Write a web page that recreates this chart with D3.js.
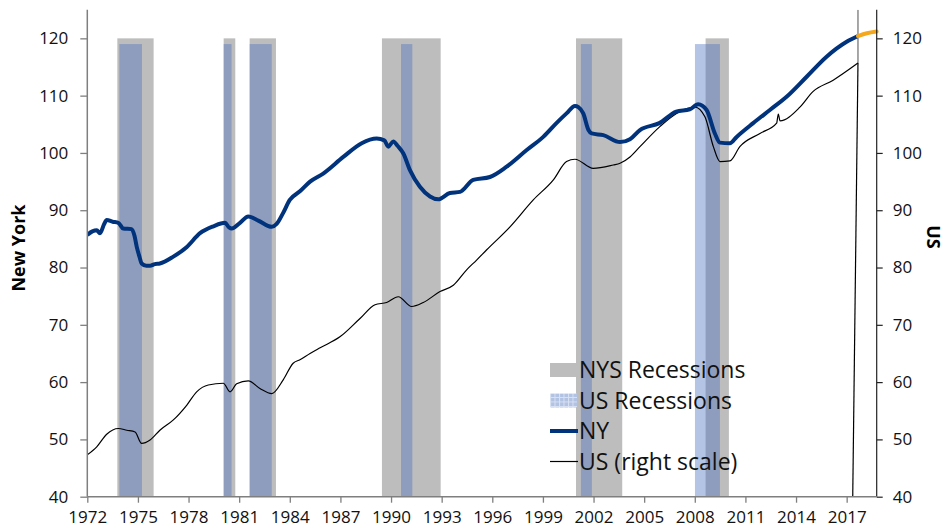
<!DOCTYPE html>
<html>
<head>
<meta charset="utf-8">
<script src="https://cdn.jsdelivr.net/npm/d3@7"></script>
<style>
    body { margin: 0; background: #fff; }
    svg { display: block; font-family: "Open Sans", sans-serif; }
</style>
</head>
<body>
<script>
(function () {
    'use strict';

    var width = 945;
    var height = 529;

    // [year, index]
    var nySeries = [
        [1972.0, 85.7], [1972.3, 86.3], [1972.56, 86.5], [1972.75, 86.0], [1973.0, 87.6],
        [1973.15, 88.3], [1973.5, 88.0], [1973.84, 87.8], [1974.13, 86.8], [1974.63, 86.7],
        [1974.8, 85.5], [1974.93, 83.6], [1975.1, 81.8], [1975.22, 80.7], [1975.5, 80.3],
        [1975.72, 80.3], [1976.0, 80.6], [1976.3, 80.7], [1977.1, 81.9], [1977.9, 83.6],
        [1978.68, 86.0], [1979.47, 87.2], [1980.16, 87.8], [1980.4, 87.0], [1980.56, 86.8],
        [1981.05, 87.8], [1981.54, 88.9], [1982.13, 88.2], [1982.93, 87.1], [1983.22, 87.6],
        [1983.6, 89.5], [1984.0, 91.8], [1984.6, 93.3], [1985.2, 95.0], [1985.98, 96.4],
        [1987.17, 99.3], [1988.26, 101.7], [1989.15, 102.5], [1989.6, 102.2], [1989.84, 101.1],
        [1990.13, 102.0], [1990.4, 101.2], [1990.73, 99.9], [1991.12, 97.0], [1991.71, 94.1],
        [1992.31, 92.4], [1992.8, 91.9], [1993.49, 93.0], [1994.09, 93.2], [1994.87, 95.3],
        [1995.86, 95.8], [1996.85, 97.6], [1998.04, 100.5], [1999.02, 102.8], [1999.8, 105.2],
        [2000.4, 106.9], [2000.9, 108.2], [2001.1, 108.0], [2001.39, 106.9], [2001.7, 104.0],
        [2001.89, 103.4], [2002.58, 103.1], [2003.57, 101.9], [2004.16, 102.4], [2004.75, 104.0],
        [2005.9, 105.2], [2006.9, 107.2], [2007.7, 107.6], [2008.2, 108.5], [2008.7, 107.5],
        [2009.19, 103.4], [2009.49, 101.8], [2010.08, 101.7], [2010.48, 102.8], [2011.46, 105.2],
        [2012.45, 107.5], [2013.44, 109.8], [2014.63, 113.3], [2015.81, 116.8], [2017.0, 119.4],
        [2017.67, 120.4]
    ];

    var nyForecast = [[2017.67, 120.4], [2018.2, 120.9], [2018.78, 121.2]];

    var usSeries = [
        [1972.0, 47.3], [1972.56, 48.7], [1973.15, 50.9], [1973.84, 51.9], [1974.34, 51.6],
        [1974.83, 51.3], [1975.22, 49.3], [1975.72, 49.9], [1976.3, 51.6], [1977.1, 53.4],
        [1977.9, 56.0], [1978.48, 58.3], [1979.17, 59.5], [1980.06, 59.8], [1980.46, 58.3],
        [1980.85, 59.7], [1981.54, 60.2], [1982.23, 58.9], [1982.93, 58.0], [1983.61, 60.4],
        [1984.2, 63.3], [1984.6, 63.9], [1985.2, 65.0], [1985.8, 66.0], [1986.97, 67.9],
        [1988.16, 71.1], [1989.05, 73.5], [1989.74, 73.9], [1990.43, 74.9], [1991.22, 73.2],
        [1991.91, 73.9], [1992.9, 75.8], [1993.69, 76.9], [1994.48, 79.6], [1995.07, 81.3],
        [1995.67, 83.1], [1997.05, 87.1], [1998.43, 91.8], [1999.62, 95.3], [2000.4, 98.5],
        [2000.9, 98.9], [2001.98, 97.3], [2003.17, 97.9], [2003.57, 98.2], [2004.16, 99.3],
        [2004.75, 101.1], [2005.93, 104.6], [2006.92, 106.9], [2008.01, 108.0], [2008.6, 106.3],
        [2009.1, 101.1], [2009.49, 98.5], [2010.08, 98.6], [2010.67, 101.1], [2011.86, 103.4],
        [2012.85, 105.2], [2012.95, 106.8], [2013.05, 105.6], [2014.23, 108.0], [2015.0, 110.7],
        [2016.2, 112.7], [2017.67, 115.7]
    ];

    // the US line drops off the bottom after its last value
    var usTail = [[2017.67, 115.7], [2017.36, 40]];
    var forecastMark = [[2017.67, 125], [2017.67, 115.7]];

    var nysRecessions = [
        [1973.78, 1975.93], [1980.08, 1980.77], [1981.62, 1983.18],
        [1989.46, 1992.94], [2000.96, 2003.70], [2008.64, 2010.02]
    ];
    var usRecessions = [
        [1973.9, 1975.24], [1980.08, 1980.55], [1981.62, 1982.93],
        [1990.59, 1991.26], [2001.25, 2001.9], [2008.01, 2009.49]
    ];

    var yearTicks = [1972, 1975, 1978, 1981, 1984, 1987, 1990, 1993, 1996, 1999, 2002, 2005, 2008, 2011, 2014, 2017];
    var valueTicks = [40, 50, 60, 70, 80, 90, 100, 110, 120];

    var legendItems = ['NYS Recessions', 'US Recessions', 'NY', 'US (right scale)'];

    var x = d3.scaleLinear().domain([1972, 2018.78]).range([87.3, 876.7]);
    var y = d3.scaleLinear().domain([40, 125]).range([496.7, 9.7]);

    var svg = d3.select('body').append('svg')
        .attr('width', width)
        .attr('height', height);

    var defs = svg.append('defs');
    defs.append('clipPath').attr('id', 'plot')
        .append('rect')
        .attr('x', x.range()[0]).attr('y', y.range()[1])
        .attr('width', x.range()[1] - x.range()[0])
        .attr('height', y.range()[0] - y.range()[1]);

    var pat = defs.append('pattern').attr('id', 'usgrid')
        .attr('patternUnits', 'userSpaceOnUse')
        .attr('width', 4.5).attr('height', 4.5);
    pat.append('rect').attr('width', 4.5).attr('height', 4.5).attr('fill', '#b2c2e3');
    pat.append('path').attr('d', 'M0,0.5H4.5M0.5,0V4.5')
        .attr('stroke', '#d9e2f3').attr('stroke-width', 1);

    var plot = svg.append('g').attr('clip-path', 'url(#plot)');

    plot.selectAll('rect.nys')
        .data(nysRecessions)
      .enter().append('rect')
        .attr('class', 'nys')
        .attr('x', function (d) { return x(d[0]); })
        .attr('width', function (d) { return x(d[1]) - x(d[0]); })
        .attr('y', y(120))
        .attr('height', y(40) - y(120))
        .style('fill', '#bebdbe');

    plot.selectAll('rect.us')
        .data(usRecessions)
      .enter().append('rect')
        .attr('class', 'us')
        .attr('x', function (d) { return x(d[0]); })
        .attr('width', function (d) { return x(d[1]) - x(d[0]); })
        .attr('y', y(119))
        .attr('height', y(40) - y(119))
        .style('fill', 'rgb(75,113,190)')
        .style('fill-opacity', 0.415);

    var line = d3.line()
        .x(function (d) { return x(d[0]); })
        .y(function (d) { return y(d[1]); })
        .curve(d3.curveMonotoneX);
    var straight = d3.line()
        .x(function (d) { return x(d[0]); })
        .y(function (d) { return y(d[1]); });

    plot.append('path').datum(forecastMark)
        .attr('d', straight)
        .style('fill', 'none').style('stroke', '#8a8a8a').style('stroke-width', 1.5);

    plot.append('path').datum(usSeries)
        .attr('d', line)
        .style('fill', 'none').style('stroke', '#000').style('stroke-width', 1.2);

    plot.append('path').datum(usTail)
        .attr('d', straight)
        .style('fill', 'none').style('stroke', '#000').style('stroke-width', 1.2);

    plot.append('path').datum(nySeries)
        .attr('d', line)
        .style('fill', 'none').style('stroke', '#00337c').style('stroke-width', 4)
        .style('stroke-linejoin', 'round');

    svg.append('path').datum(nyForecast)
        .attr('d', line)
        .style('fill', 'none').style('stroke', '#f5a81c').style('stroke-width', 4)
        .style('stroke-linecap', 'round');

    // axes
    var left = svg.append('g')
        .attr('transform', 'translate(' + x.range()[0] + ',0)')
        .call(d3.axisLeft(y).tickValues(valueTicks).tickSize(7).tickPadding(12));
    var right = svg.append('g')
        .attr('transform', 'translate(' + x.range()[1] + ',0)')
        .call(d3.axisRight(y).tickValues(valueTicks).tickSize(6).tickPadding(10));
    var bottom = svg.append('g')
        .attr('transform', 'translate(0,' + y.range()[0] + ')')
        .call(d3.axisBottom(x).tickValues(yearTicks).tickFormat(d3.format('d')).tickSize(6).tickPadding(8));

    [left, right, bottom].forEach(function (g) {
        g.select('.domain').attr('d', null);
        g.selectAll('text').style('font-size', '17px').style('fill', '#111')
            .style('font-family', '"Open Sans", sans-serif');
    });
    left.selectAll('line').attr('stroke', '#7f7f7f').attr('stroke-width', 1.3);
    bottom.selectAll('line').attr('stroke', '#7f7f7f').attr('stroke-width', 1.3);
    right.selectAll('line').attr('stroke', '#222').attr('stroke-width', 1.2);

    svg.append('line')
        .attr('x1', x.range()[0]).attr('x2', x.range()[0])
        .attr('y1', y.range()[1]).attr('y2', y.range()[0])
        .attr('stroke', '#7f7f7f').attr('stroke-width', 1.5);
    svg.append('line')
        .attr('x1', x.range()[1]).attr('x2', x.range()[1])
        .attr('y1', y.range()[1]).attr('y2', y.range()[0])
        .attr('stroke', '#222').attr('stroke-width', 1.2);
    svg.append('line')
        .attr('x1', x.range()[0]).attr('x2', x.range()[1])
        .attr('y1', y.range()[0]).attr('y2', y.range()[0])
        .attr('stroke', '#7f7f7f').attr('stroke-width', 1.5);

    svg.append('text')
        .attr('transform', 'translate(25,248) rotate(-90)')
        .attr('text-anchor', 'middle')
        .style('font-weight', 'bold').style('font-size', '18px')
        .text('New York');
    svg.append('text')
        .attr('transform', 'translate(927,237) rotate(90)')
        .attr('text-anchor', 'middle')
        .style('font-weight', 'bold').style('font-size', '18px')
        .text('US');

    // legend
    var legend = svg.append('g').attr('transform', 'translate(550,370)');
    var rowGap = 30.5;
    legend.append('rect').attr('x', 0).attr('y', -7).attr('width', 27).attr('height', 14)
        .style('fill', '#bebdbe');
    legend.append('rect').attr('x', 0).attr('y', rowGap - 7).attr('width', 27).attr('height', 14)
        .style('fill', 'url(#usgrid)');
    legend.append('line').attr('x1', 0).attr('x2', 28).attr('y1', rowGap * 2).attr('y2', rowGap * 2)
        .style('stroke', '#00337c').style('stroke-width', 4);
    legend.append('line').attr('x1', 0).attr('x2', 28).attr('y1', rowGap * 3).attr('y2', rowGap * 3)
        .style('stroke', '#000').style('stroke-width', 1.2);
    legend.selectAll('text')
        .data(legendItems)
      .enter().append('text')
        .attr('x', 29)
        .attr('y', function (d, i) { return i * rowGap; })
        .attr('dy', '0.36em')
        .style('font-size', '23px').style('fill', '#111')
        .text(function (d) { return d; });
})();
</script>
</body>
</html>
